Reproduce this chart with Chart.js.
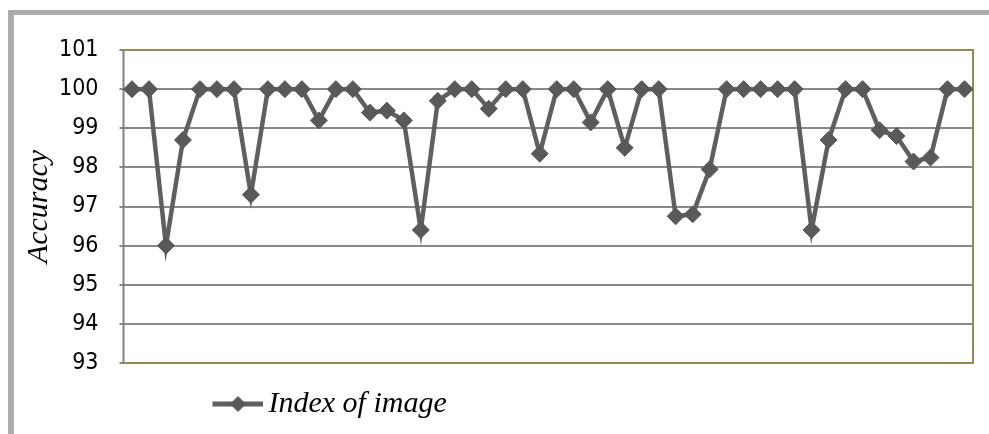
<!DOCTYPE html>
<html>
<head>
<meta charset="utf-8">
<script src="https://cdn.jsdelivr.net/npm/chart.js@4.4.0/dist/chart.umd.min.js"></script>
<style>
    html, body { margin: 0; padding: 0; background: #fff; }
    #wrap { position: relative; width: 989px; height: 434px; overflow: hidden; }
    #frame {
        position: absolute; left: 8px; top: 10px; width: 1200px; height: 600px;
        border-left: 6px solid #acacac; border-top: 5px solid #acacac;
    }
    canvas { position: absolute; left: 0; top: 0; }
</style>
</head>
<body>
<div id="wrap">
    <div id="frame"></div>
    <canvas id="accuracy-chart" width="989" height="434"></canvas>
</div>
<script>
// image indexes (x categories, labels hidden on the chart)
const imageIndex = [
    1, 2, 3, 4, 5, 6, 7, 8, 9, 10,
    11, 12, 13, 14, 15, 16, 17, 18, 19, 20,
    21, 22, 23, 24, 25, 26, 27, 28, 29, 30,
    31, 32, 33, 34, 35, 36, 37, 38, 39, 40,
    41, 42, 43, 44, 45, 46, 47, 48, 49, 50,
];
// accuracy for each image
const accuracy = [
    100, 100, 96, 98.7, 100, 100, 100, 97.3, 100, 100,
    100, 99.2, 100, 100, 99.4, 99.45, 99.2, 96.4, 99.7, 100,
    100, 99.5, 100, 100, 98.35, 100, 100, 99.15, 100, 98.5,
    100, 100, 96.75, 96.8, 97.95, 100, 100, 100, 100, 100,
    96.4, 98.7, 100, 100, 98.95, 98.8, 98.15, 98.25, 100, 100,
];
// y axis range
const yMin = 93;
const yMax = 101;

const LINE = "#5f5f5f";
const MARK = "#595959";
const OLIVE = "#948a54";

// legend symbol: line with a diamond, shifted to the right inside the image
const legendMark = document.createElement("canvas");
legendMark.width = 140;
legendMark.height = 24;
(() => {
    const c = legendMark.getContext("2d");
    c.strokeStyle = LINE;
    c.lineWidth = 5;
    c.beginPath();
    c.moveTo(89, 12);
    c.lineTo(140, 12);
    c.stroke();
    c.fillStyle = MARK;
    c.beginPath();
    c.moveTo(114.5, 4);
    c.lineTo(122.5, 12);
    c.lineTo(114.5, 20);
    c.lineTo(106.5, 12);
    c.closePath();
    c.fill();
})();

// olive border round the plot area (top, right, bottom)
const plotBorder = {
    id: "plotBorder",
    beforeDatasetsDraw(chart) {
        const { ctx, chartArea: a } = chart;
        ctx.save();
        ctx.strokeStyle = OLIVE;
        ctx.lineWidth = 2;
        ctx.beginPath();
        ctx.moveTo(a.left, a.top);
        ctx.lineTo(a.right, a.top);
        ctx.lineTo(a.right, a.bottom);
        ctx.lineTo(a.left, a.bottom);
        ctx.stroke();
        // gray axis line on the left
        ctx.strokeStyle = "#808080";
        ctx.beginPath();
        ctx.moveTo(a.left, a.top);
        ctx.lineTo(a.left, a.bottom + 1);
        ctx.stroke();
        ctx.restore();
    },
};

const context = document.getElementById("accuracy-chart").getContext("2d");
const accuracyChart = new Chart(context, {
    type: "line",
    data: {
        labels: imageIndex,
        datasets: [
            {
                label: "Index of image",
                data: accuracy,
                borderColor: LINE,
                borderWidth: 4.5,
                pointStyle: "rectRot",
                pointRadius: 8.5,
                pointBackgroundColor: MARK,
                pointBorderColor: MARK,
                pointBorderWidth: 1,
                tension: 0,
                clip: false,
            },
        ],
    },
    options: {
        responsive: false,
        animation: false,
        layout: {
            padding: { left: 21, right: 16, top: 50, bottom: 5 },
        },
        scales: {
            x: {
                offset: true,
                grid: { display: false },
                border: { display: false },
                ticks: { display: false },
                afterFit: (scale) => {
                    scale.height += 8;
                },
            },
            y: {
                min: yMin,
                max: yMax,
                ticks: {
                    stepSize: 1,
                    color: "#000",
                    padding: 21,
                    font: { family: "'DejaVu Sans Condensed', 'DejaVu Sans'", size: 23 },
                },
                grid: {
                    color: "#888888",
                    lineWidth: 2,
                    tickLength: 4,
                },
                border: { display: false },
                title: {
                    display: true,
                    text: "Accuracy",
                    color: "#000",
                    padding: { top: 0, bottom: -19 },
                    font: { family: "Liberation Serif", style: "italic", size: 30 },
                },
            },
        },
        plugins: {
            tooltip: { enabled: false },
            legend: {
                position: "bottom",
                align: "start",
                fullSize: false,
                labels: {
                    usePointStyle: true,
                    pointStyle: legendMark,
                    pointStyleWidth: 120,
                    color: "#000",
                    padding: 10,
                    font: { family: "Liberation Serif", style: "italic", size: 30 },
                },
            },
        },
    },
    plugins: [plotBorder],
});
</script>
</body>
</html>
